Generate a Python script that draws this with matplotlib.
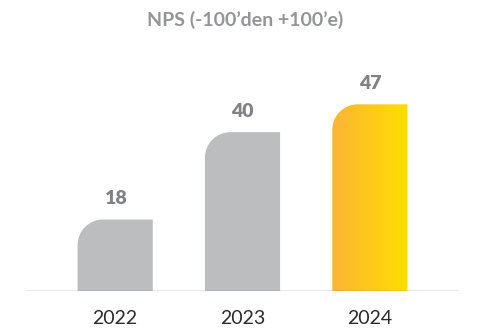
import numpy as np
import matplotlib

matplotlib.use("Agg")
import matplotlib.pyplot as plt
from matplotlib.path import Path
from matplotlib.patches import PathPatch
from matplotlib.colors import LinearSegmentedColormap

years = ["2022", "2023", "2024"]
nps = [18, 40, 47]
title = "NPS (-100\u2019den +100\u2019e)"

GREY_BAR = "#bcbdbf"
LABEL_GREY = "#808285"
AXIS_GREY = "#8c8c8c"
HIGHLIGHT = ["#fcb535", "#ffde00"]

plt.rcParams["font.family"] = ["Lato", "DejaVu Sans"]

fig = plt.figure(figsize=(4.89, 3.31), dpi=100)
ax = fig.add_axes([0.0532, 0.1208, 0.8855, 0.582])
ax.set_xlim(-0.70, 2.70)
ax.set_ylim(0, 48.5)

bar_w = 0.59
rx, ry = 0.20, 6.4  # top-left corner radius in data units
k = 0.5523  # bezier quarter-circle constant


def rounded_bar(x0, h):
    left, right = x0 - bar_w / 2, x0 + bar_w / 2
    verts = [
        (left, 0),
        (left, h - ry),
        (left, h - ry + k * ry),
        (left + rx - k * rx, h),
        (left + rx, h),
        (right, h),
        (right, 0),
        (left, 0),
    ]
    codes = [Path.MOVETO, Path.LINETO, Path.CURVE4, Path.CURVE4, Path.CURVE4,
             Path.LINETO, Path.LINETO, Path.CLOSEPOLY]
    return Path(verts, codes)


cmap = LinearSegmentedColormap.from_list("nps_hi", HIGHLIGHT)
for i, (yr, v) in enumerate(zip(years, nps)):
    path = rounded_bar(i, v)
    if i == len(years) - 1:
        patch = PathPatch(path, facecolor="none", edgecolor="none")
        ax.add_patch(patch)
        grad = np.linspace(0, 1, 256).reshape(1, -1)
        im = ax.imshow(grad, cmap=cmap, aspect="auto",
                       extent=(i - bar_w / 2, i + bar_w / 2, 0, v), zorder=2)
        im.set_clip_path(patch)
    else:
        ax.add_patch(PathPatch(path, facecolor=GREY_BAR, edgecolor="none", zorder=2))
    ax.annotate(str(v), (i, v), xytext=(0, 15), textcoords="offset points",
                ha="center", va="center", fontsize=14, fontweight="heavy",
                color=LABEL_GREY)

ax.set_xlim(-0.70, 2.70)
ax.set_ylim(0, 48.5)
ax.axhline(0, color=AXIS_GREY, linewidth=1.0, zorder=3)

ax.set_xticks(range(len(years)))
ax.set_xticklabels(years, fontsize=14, fontweight="normal", color="#2b2b2b")
ax.tick_params(axis="x", length=0, pad=14)
ax.set_yticks([])
for s in ax.spines.values():
    s.set_visible(False)

fig.text(0.501, 1 - 20 / 331, title, ha="center", va="center",
         fontsize=14, fontweight="bold", color="#939598")

fig.savefig("out.png", dpi=100)
